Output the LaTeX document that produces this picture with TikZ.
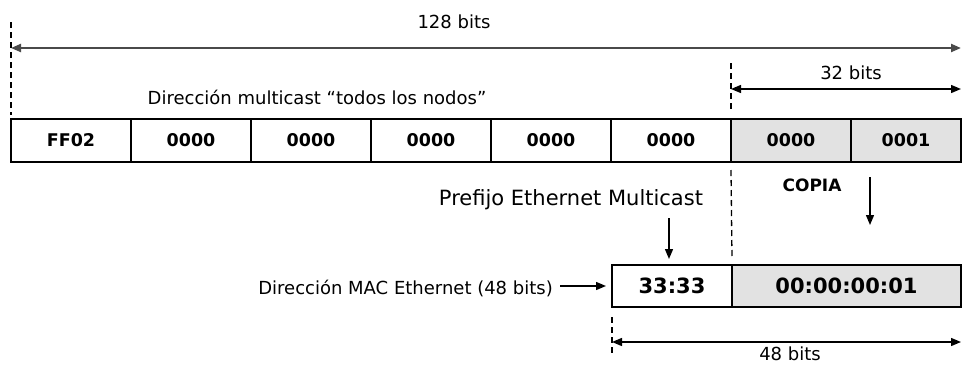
\documentclass[tikz,border=0pt]{standalone}
\usepackage{fontspec}
\setmainfont{DejaVu Sans}
\usetikzlibrary{arrows.meta,calc}
\definecolor{cellgray}{HTML}{E2E2E2}
\definecolor{rulegray}{HTML}{4A4A4A}
\begin{document}
\begin{tikzpicture}[x=1pt,y=-1pt,
  cell/.style={draw=black, line width=1.3pt, minimum width=120pt, minimum height=43pt,
    inner sep=0pt, outer sep=0pt, anchor=north west,
    font=\fontsize{17.5}{20}\selectfont\bfseries},
  maccell/.style={cell, minimum height=42pt, font=\fontsize{21}{24}\selectfont\bfseries},
  shaded/.style={fill=cellgray},
  tip/.tip={Triangle[length=10pt,width=8pt]},
  dimline/.style={tip-tip, line width=1.4pt},
  pointer/.style={-tip, line width=1.4pt},
  guide/.style={dash pattern=on 6pt off 4pt, line width=1.3pt},
  lbl/.style={inner sep=0pt, font=\fontsize{18}{20}\selectfont},
  biglbl/.style={inner sep=0pt, font=\fontsize{21}{24}\selectfont}]
\useasboundingbox (0,0) rectangle (962,365);

% IPv6 all-nodes multicast address, eight 16-bit groups
\node[cell] (g1) at (11,119) {FF02};
\node[cell] (g2) at (g1.north east) {0000};
\node[cell] (g3) at (g2.north east) {0000};
\node[cell] (g4) at (g3.north east) {0000};
\node[cell] (g5) at (g4.north east) {0000};
\node[cell] (g6) at (g5.north east) {0000};
\node[cell, shaded] (g7) at (g6.north east) {0000};
\node[cell, shaded, minimum width=110pt] (g8) at (g7.north east) {0001};

% full width: 128 bits
\coordinate (topL) at (11,48);
\coordinate (topR) at (961,48);
\draw[dimline, draw=rulegray, line width=2.2pt] (topL) -- (topR);
\node[lbl] (t128) at (454,22) {128 bits};
\coordinate (gl0) at (11,22);
\draw[guide] (gl0) -- ($(g1.north west)+(0,-4)$);

\node[lbl] (tall) at (317,97) {Dirección multicast “todos los nodos”};

% last 32 bits
\coordinate (gr0) at (731,63);
\draw[guide] (gr0) -- ($(g7.north west)+(0,-9)$);
\coordinate (r32L) at (731,89);
\coordinate (r32R) at (961,89);
\draw[dimline] (r32L) -- (r32R);
\node[lbl] (t32) at (851,73) {32 bits};

% Ethernet MAC address
\node[maccell] (m1) at (612,265) {33:33};
\node[maccell, shaded, minimum width=229pt] (m2) at (m1.north east) {00:00:00:01};

\draw[guide] ($(g7.south west)+(0,8)$) -- ($(m2.north west)+(0,-7)$);

\node[lbl, font=\fontsize{17}{20}\selectfont\bfseries] (copy) at (812,185) {COPIA};
\coordinate (copyA) at (870,177);
\coordinate (copyB) at (870,225);
\draw[pointer] (copyA) -- (copyB);

\node[biglbl] (pref) at (571,200) {Prefijo Ethernet Multicast};
\coordinate (prefA) at (669,218);
\draw[pointer] (prefA) -- (prefA |- 0,259);

\node[lbl, anchor=east] (mac) at (553,288) {Dirección MAC Ethernet (48 bits)};
\coordinate (macA) at ($(mac.east)+(7,0)$);
\draw[pointer] (macA |- m1.west) -- ($(m1.west)+(-6,0)$);

% 48 bits of the MAC address
\coordinate (ml0) at (612,317);
\draw[guide] (ml0) -- (612,355);
\coordinate (b48L) at (612,342);
\coordinate (b48R) at (961,342);
\draw[dimline] (b48L) -- (b48R);
\node[lbl] (t48) at (790,354) {48 bits};
\end{tikzpicture}
\end{document}
